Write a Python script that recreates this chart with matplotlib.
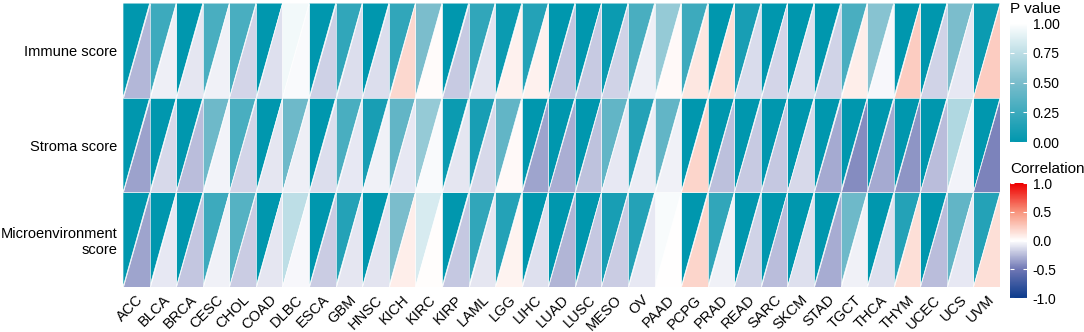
import numpy as np
import matplotlib
matplotlib.use("Agg")
import matplotlib.pyplot as plt
from matplotlib.collections import PolyCollection
from matplotlib.colors import LinearSegmentedColormap, Normalize
from matplotlib.cm import ScalarMappable

plt.rcParams['font.family'] = ['Liberation Sans', 'DejaVu Sans']

cancers = ['ACC', 'BLCA', 'BRCA', 'CESC', 'CHOL', 'COAD', 'DLBC', 'ESCA', 'GBM', 'HNSC',
           'KICH', 'KIRC', 'KIRP', 'LAML', 'LGG', 'LIHC', 'LUAD', 'LUSC', 'MESO', 'OV',
           'PAAD', 'PCPG', 'PRAD', 'READ', 'SARC', 'SKCM', 'STAD', 'TGCT', 'THCA', 'THYM',
           'UCEC', 'UCS', 'UVM']
scores = ['Immune score', 'Stroma score', 'Microenvironment\nscore']

# p values (upper-left triangles)
p_immune = [0.0, 0.25, 0.0, 0.3, 0.3, 0.0, 0.95, 0.0, 0.2, 0.0,
            0.2, 0.5, 0.0, 0.2, 0.05, 0.15, 0.0, 0.0, 0.05, 0.3,
            0.6, 0.25, 0.0, 0.1, 0.0, 0.0, 0.0, 0.3, 0.55, 0.0,
            0.0, 0.5, 0.05]
p_stroma = [0.0, 0.0, 0.0, 0.45, 0.3, 0.0, 0.45, 0.0, 0.3, 0.1,
            0.4, 0.6, 0.05, 0.1, 0.4, 0.0, 0.0, 0.0, 0.4, 0.15,
            0.4, 0.0, 0.0, 0.0, 0.0, 0.0, 0.0, 0.0, 0.0, 0.0,
            0.0, 0.7, 0.0]
p_micro = [0.0, 0.0, 0.0, 0.25, 0.35, 0.0, 0.75, 0.0, 0.15, 0.0,
           0.5, 0.85, 0.0, 0.2, 0.15, 0.0, 0.0, 0.0, 0.1, 0.15,
           0.97, 0.0, 0.2, 0.0, 0.0, 0.0, 0.0, 0.45, 0.0, 0.15,
           0.0, 0.4, 0.15]

# correlations (lower-right triangles)
r_immune = [-0.26, -0.06, -0.09, -0.05, -0.15, -0.11, -0.02, -0.17, -0.12, -0.12,
            0.18, 0.02, -0.19, -0.10, 0.07, 0.07, -0.21, -0.19, -0.16, -0.06,
            0.03, 0.11, 0.15, -0.13, -0.15, -0.11, -0.16, 0.08, -0.03, 0.24,
            -0.16, -0.08, 0.24]
r_stroma = [-0.34, -0.14, -0.24, -0.04, -0.15, -0.09, -0.06, -0.12, -0.08, -0.05,
            -0.08, -0.02, -0.09, -0.14, 0.03, -0.33, -0.29, -0.22, -0.08, -0.07,
            -0.05, 0.20, -0.23, -0.19, -0.20, -0.14, -0.31, -0.42, -0.31, -0.39,
            -0.24, -0.04, -0.45]
r_micro = [-0.33, -0.08, -0.21, -0.05, -0.18, -0.09, -0.03, -0.18, -0.09, -0.10,
           0.08, 0.01, -0.20, -0.09, 0.06, -0.11, -0.27, -0.20, -0.18, -0.08,
           0.00, 0.20, -0.05, -0.16, -0.24, -0.11, -0.30, -0.05, -0.11, 0.15,
           -0.24, -0.08, 0.15]

p_vals = np.array([p_immune, p_stroma, p_micro])
r_vals = np.array([r_immune, r_stroma, r_micro])

p_cmap = LinearSegmentedColormap.from_list('pv', ['#0097AE', '#7ABDCC', '#FFFFFF'])
r_cmap = LinearSegmentedColormap.from_list('cor', ['#0B3B8C', '#6E76B4', '#FFFFFF', '#F8957D', '#EE0000'])
p_norm = Normalize(0, 1)
r_norm = Normalize(-1, 1)

fig = plt.figure(figsize=(10.84, 3.32), dpi=100)
ax = fig.add_axes([0.1135, 0.1355, 0.809, 0.855])

upper, lower, pc, rc = [], [], [], []
for i in range(len(scores)):
    for j in range(len(cancers)):
        upper.append([(j, i), (j + 1, i), (j, i + 1)])
        lower.append([(j + 1, i), (j + 1, i + 1), (j, i + 1)])
        pc.append(p_vals[i, j])
        rc.append(r_vals[i, j])

ax.add_collection(PolyCollection(upper, facecolors=p_cmap(p_norm(pc)), edgecolors='white', linewidths=0.4))
ax.add_collection(PolyCollection(lower, facecolors=r_cmap(r_norm(rc)), edgecolors='white', linewidths=0.4))

ax.set_xlim(0, len(cancers))
ax.set_ylim(len(scores), 0)
ax.set_xticks(np.arange(len(cancers)) + 0.5)
ax.set_xticklabels(cancers, rotation=45, ha='right', va='top', rotation_mode='anchor', fontsize=10.5)
ax.set_yticks(np.arange(len(scores)) + 0.5)
ax.set_yticklabels(scores, fontsize=10.5, ha='right', multialignment='right')
ax.tick_params(length=0, pad=4)
for s in ax.spines.values():
    s.set_visible(False)

# legends
cax1 = fig.add_axes([0.9317, 0.572, 0.0157, 0.358])
cb1 = fig.colorbar(ScalarMappable(norm=p_norm, cmap=p_cmap), cax=cax1)
cb1.set_ticks([0, 0.25, 0.5, 0.75, 1.0])
cb1.set_ticklabels(['0.00', '0.25', '0.50', '0.75', '1.00'])
cax2 = fig.add_axes([0.9317, 0.102, 0.0157, 0.346])
cb2 = fig.colorbar(ScalarMappable(norm=r_norm, cmap=r_cmap), cax=cax2)
cb2.set_ticks([-1, -0.5, 0, 0.5, 1])
cb2.set_ticklabels(['-1.0', '-0.5', '0.0', '0.5', '1.0'])
for cb in (cb1, cb2):
    cb.outline.set_visible(False)
    cb.ax.yaxis.set_ticks_position('both')
    cb.ax.tick_params(which='both', color='white', direction='in', length=3, width=0.8,
                      labelsize=10, pad=4, labelleft=False, labelright=True)

fig.text(0.9317, 0.972, 'P value', fontsize=11, ha='left', va='center')
fig.text(0.9317, 0.49, 'Correlation', fontsize=11, ha='left', va='center')

fig.savefig('out.png', dpi=100)
